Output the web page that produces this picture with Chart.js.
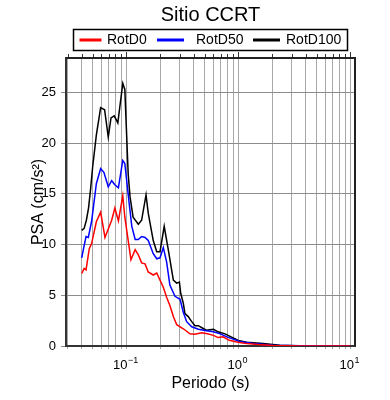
<!DOCTYPE html>
<html><head><meta charset="utf-8">
<script src="https://cdn.jsdelivr.net/npm/chart.js@4.4.0/dist/chart.umd.min.js"></script>
<style>html,body{margin:0;padding:0;background:#fff;}#wrap{width:390px;height:400px;}</style>
</head><body><div id="wrap"><canvas id="c" width="390" height="400"></canvas></div>
<script>
const chartTitle = 'Sitio CCRT';
const xTitle = 'Periodo (s)';
const yTitle = 'PSA (cm/s\u00B2)';
const seriesNames = ['RotD0', 'RotD50', 'RotD100'];
const seriesColors = ['#ff0000', '#0000ff', '#000000'];

const periodsD0 = [0.040,0.042,0.0437,0.0467,0.049,0.054,0.059,0.0645,0.0705,0.074,0.079,0.085,0.093,0.097,0.104,0.110,0.120,0.128,0.137,0.147,0.157,0.174,0.187,0.200,0.214,0.229,0.245,0.263,0.282,0.323,0.37,0.41,0.47,0.53,0.60,0.66,0.73,0.83,0.97,1.13,1.5,2.05,3.6,10.0];
const valuesD0 = [7.15,7.65,7.5,9.6,10.1,12.25,13.2,10.7,11.8,12.4,13.6,12.35,14.8,12.7,10.4,8.5,9.5,9.0,8.2,8.1,7.3,7.0,7.2,6.5,5.8,4.8,4.0,2.9,2.1,1.7,1.2,1.15,1.3,1.2,1.05,0.83,0.9,0.56,0.4,0.27,0.14,0.04,0.01,0.005];

const periodsD50 = [0.040,0.0415,0.0437,0.0458,0.049,0.054,0.059,0.0632,0.069,0.074,0.079,0.085,0.093,0.097,0.106,0.112,0.120,0.128,0.137,0.147,0.157,0.174,0.187,0.200,0.214,0.229,0.245,0.272,0.302,0.323,0.346,0.384,0.44,0.52,0.60,0.69,0.79,0.90,1.03,1.37,2.05,3.6,10.0];
const valuesD50 = [8.7,9.6,10.8,10.7,12.3,16.0,17.5,17.1,15.7,16.3,15.9,15.6,18.3,18.0,14.1,11.8,10.5,10.5,10.8,10.7,10.4,9.1,8.6,8.7,9.7,8.3,6.0,4.9,4.6,3.3,2.4,1.9,1.65,1.5,1.4,1.2,0.9,0.68,0.45,0.24,0.07,0.02,0.01];

const periodsD100 = [0.040,0.042,0.044,0.046,0.048,0.050,0.054,0.059,0.064,0.069,0.073,0.078,0.084,0.093,0.097,0.104,0.108,0.115,0.128,0.137,0.150,0.157,0.174,0.187,0.200,0.218,0.237,0.263,0.282,0.298,0.306,0.323,0.334,0.357,0.384,0.41,0.44,0.49,0.52,0.56,0.60,0.66,0.76,0.90,1.0,1.19,1.67,2.35,3.3,5.0,10.0];
const valuesD100 = [11.4,11.6,12.4,13.6,15.5,17.6,20.8,23.5,23.3,20.6,22.5,22.7,22.0,25.9,25.3,16.9,14.7,12.7,12.0,12.4,14.9,13.1,10.4,9.3,9.3,11.8,9.5,6.5,6.2,6.3,5.2,4.2,3.2,2.9,2.4,2.0,2.0,1.7,1.55,1.6,1.65,1.4,1.2,0.8,0.55,0.37,0.24,0.07,0.03,0.02,0.01];

const yTicks = [0, 5, 10, 15, 20, 25];
const xGridTicks = [0.03,0.04,0.05,0.06,0.07,0.08,0.09,0.1,0.2,0.3,0.4,0.5,0.6,0.7,0.8,0.9,1,2,3,4,5,6,7,8,9,10];
const xMajorTicks = [0.1, 1, 10];
const xMajorBase = ['10', '10', '10'];
const xMajorExp = ['\u22121', '0', '1'];
const xMin = 0.02894, xMax = 11.02, yMin = 0, yMax = 28.4;

const FONT = "'Liberation Sans', Arial, Helvetica, sans-serif";
Chart.defaults.font.family = FONT;
Chart.defaults.color = '#000';

function pts(px, py) { return px.map((p, i) => ({x: p, y: py[i]})); }

const allPeriods = [periodsD0, periodsD50, periodsD100];
const allValues = [valuesD0, valuesD50, valuesD100];
const datasets = seriesNames.map((n, i) => ({
  label: n,
  data: pts(allPeriods[i], allValues[i]),
  borderColor: seriesColors[i],
  backgroundColor: seriesColors[i],
  borderWidth: 1.5,
  pointRadius: 0,
  tension: 0,
  fill: false
}));

const decor = {
  id: 'decor',
  afterDraw(chart) {
    const ctx = chart.ctx, ca = chart.chartArea, xs = chart.scales.x;
    ctx.save();
    // top & right frame
    ctx.fillStyle = '#222';
    ctx.fillRect(ca.left, ca.top - 1, ca.right - ca.left + 1, 2);
    ctx.fillRect(ca.right - 1, ca.top - 1, 2, ca.bottom - ca.top + 1);
    // top ticks
    ctx.strokeStyle = '#333';
    ctx.lineWidth = 1;
    xGridTicks.forEach(v => {
      const px = Math.round(xs.getPixelForValue(v)) + 0.5;
      const len = xMajorTicks.includes(v) ? 5 : 3;
      ctx.beginPath();
      ctx.moveTo(px, ca.top - 1);
      ctx.lineTo(px, ca.top - 1 - len);
      ctx.stroke();
    });
    // x major tick labels with exponent
    ctx.fillStyle = '#000';
    ctx.textBaseline = 'alphabetic';
    xMajorTicks.forEach((v, i) => {
      const px = xs.getPixelForValue(v);
      ctx.font = '13px ' + FONT;
      const wb = ctx.measureText(xMajorBase[i]).width;
      ctx.font = '9px ' + FONT;
      const we = ctx.measureText(xMajorExp[i]).width;
      const x0 = px - (wb + we) / 2 - 1;
      ctx.font = '13px ' + FONT;
      ctx.textAlign = 'left';
      ctx.fillText(xMajorBase[i], x0, ca.bottom + 23);
      ctx.font = '9px ' + FONT;
      ctx.fillText(xMajorExp[i], x0 + wb + 0.5, ca.bottom + 17);
    });
    // title
    ctx.font = '20px ' + FONT;
    ctx.textAlign = 'center';
    ctx.fillText(chartTitle, (ca.left + ca.right) / 2, 21);
    // legend box
    ctx.lineWidth = 1.5;
    ctx.strokeStyle = '#000';
    ctx.strokeRect(73.5, 29.5, 274, 21);
    const items = [
      {lx: 79.5, lw: 22, tx: 107},
      {lx: 157, lw: 27, tx: 196},
      {lx: 253, lw: 27, tx: 286}
    ];
    ctx.font = '14px ' + FONT;
    ctx.textAlign = 'left';
    ctx.textBaseline = 'middle';
    chart.data.datasets.forEach((ds, i) => {
      const it = items[i];
      ctx.fillStyle = ds.borderColor;
      ctx.fillRect(it.lx, 38.5, it.lw, 3);
      ctx.fillStyle = '#000';
      ctx.fillText(ds.label, it.tx, 40.5);
    });
    ctx.restore();
  }
};

new Chart(document.getElementById('c'), {
  type: 'line',
  data: {datasets},
  options: {
    responsive: false,
    animation: false,
    devicePixelRatio: 1,
    layout: {padding: {top: 58, right: 35, left: 0, bottom: 0}},
    plugins: {legend: {display: false}, title: {display: false}, tooltip: {enabled: false}},
    scales: {
      x: {
        type: 'logarithmic',
        min: xMin, max: xMax,
        afterBuildTicks: s => { s.ticks = xGridTicks.map(v => ({value: v})); },
        afterFit: s => { s.height = 54; },
        ticks: {callback: () => '', font: {size: 13}},
        grid: {color: '#a8a8a8', lineWidth: 1, tickLength: 3, drawTicks: true},
        border: {display: true, color: '#333', width: 2},
        title: {display: true, text: xTitle, font: {size: 16}, padding: {top: 0, bottom: 7}, color: '#000'}
      },
      y: {
        type: 'linear',
        min: yMin, max: yMax,
        afterBuildTicks: s => { s.ticks = yTicks.map(v => ({value: v})); },
        afterFit: s => { s.width = 66; },
        ticks: {font: {size: 13}, padding: 5, color: '#000'},
        grid: {color: '#8c8c8c', lineWidth: 1, tickLength: 5, drawTicks: true},
        border: {display: true, color: '#333', width: 2},
        title: {display: true, text: yTitle, font: {size: 16}, padding: {top: 29, bottom: 0}, color: '#000'}
      }
    }
  },
  plugins: [decor]
});
</script></body></html>
